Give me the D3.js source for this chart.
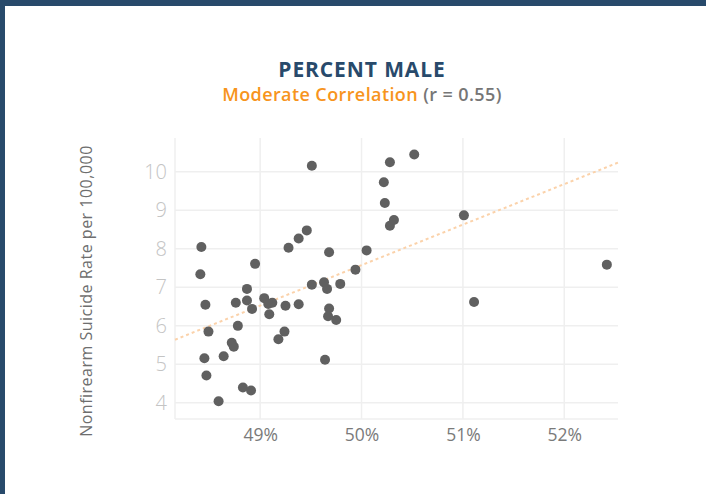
<!DOCTYPE html>
<html>
<head>
<meta charset="utf-8">
<script src="https://cdn.jsdelivr.net/npm/d3@7"></script>
<style>
  body { margin:0; background:#fff; }
  #chart { width:706px; height:494px; }
  text { font-family: "Open Sans", Lato, sans-serif; }
</style>
</head>
<body>
<div id="chart"></div>
<script>
// percent male (x) vs nonfirearm suicide rate (y), one point per state
var pctMale = [48.42, 48.41, 48.95, 49.28, 49.38, 49.46, 49.51, 49.68, 50.05, 50.22,
               50.23, 50.28, 50.28, 50.32, 50.52, 51.01, 52.42, 51.11, 49.94, 49.51,
               49.63, 49.79, 49.66, 49.68, 49.67, 49.75, 49.64, 48.87, 48.87, 48.76,
               48.46, 48.92, 49.04, 49.09, 49.12, 49.08, 49.25, 49.38, 49.24, 49.18,
               48.78, 48.49, 48.72, 48.74, 48.64, 48.45, 48.47, 48.83, 48.91, 48.59];
var rate = [8.05, 7.34, 7.61, 8.03, 8.27, 8.48, 10.16, 7.91, 7.96, 9.73,
            9.19, 10.25, 8.6, 8.75, 10.45, 8.87, 7.59, 6.62, 7.46, 7.07,
            7.13, 7.09, 6.96, 6.45, 6.25, 6.15, 5.12, 6.96, 6.66, 6.6,
            6.55, 6.44, 6.72, 6.3, 6.6, 6.57, 6.52, 6.56, 5.85, 5.65,
            6.0, 5.85, 5.56, 5.46, 5.21, 5.16, 4.71, 4.4, 4.32, 4.04];
var xTicks = [49, 50, 51, 52];
var yTicks = [4, 5, 6, 7, 8, 9, 10];
// trend line end values read from the dotted fit
var trendX = [48.16, 52.53];
var trendY = [5.64, 10.24];

var points = pctMale.map(function(d, i){ return {x:d, y:rate[i]}; });

var margin = {t:138, r:88, b:75, l:175};
var W = 706, H = 494;
var width = W - margin.l - margin.r,
    height = H - margin.t - margin.b;

var svg = d3.select('#chart').append('svg')
    .attr('width', W)
    .attr('height', H);

// dark frame along top and left
svg.append('rect').attr('x',0).attr('y',0).attr('width',W).attr('height',6).attr('fill','#284a6b');
svg.append('rect').attr('x',0).attr('y',0).attr('width',5).attr('height',H).attr('fill','#284a6b');

svg.append('text')
    .attr('x', 362).attr('y', 77)
    .attr('text-anchor','middle')
    .attr('font-size', 21)
    .attr('font-weight', 700)
    .attr('letter-spacing', 0.9)
    .attr('fill', '#284a6b')
    .text('PERCENT MALE');

var sub = svg.append('text')
    .attr('x', 362).attr('y', 101)
    .attr('text-anchor','middle')
    .attr('font-size', 18)
    .attr('font-weight', 600)
    .attr('letter-spacing', 0.4);
sub.append('tspan').attr('fill','#f7941d').text('Moderate Correlation');
sub.append('tspan').attr('fill','#767676').text(' (r = 0.55)');

var plot = svg.append('g')
    .attr('transform','translate('+margin.l+','+margin.t+')');

var x = d3.scaleLinear().domain([48.16, 52.53]).range([0, width]);
var y = d3.scaleLinear().domain([3.58, 10.88]).range([height, 0]);

// gridlines
plot.selectAll('.hgrid')
    .data(yTicks.concat([3.58]))
    .enter().append('line')
    .attr('x1', 0).attr('x2', width)
    .attr('y1', function(d){ return y(d); })
    .attr('y2', function(d){ return y(d); })
    .attr('stroke', '#efefef')
    .attr('stroke-width', 1.5);

plot.selectAll('.vgrid')
    .data([48.16].concat(xTicks))
    .enter().append('line')
    .attr('x1', function(d){ return x(d); })
    .attr('x2', function(d){ return x(d); })
    .attr('y1', 0).attr('y2', height)
    .attr('stroke', '#efefef')
    .attr('stroke-width', 1.5);

// axes (labels only)
var xAxis = plot.append('g')
    .attr('transform','translate(0,'+height+')')
    .call(d3.axisBottom(x).tickValues(xTicks).tickSize(0).tickPadding(10)
        .tickFormat(function(d){ return d + '%'; }));
xAxis.select('.domain').remove();
xAxis.selectAll('text')
    .attr('font-family','"Open Sans", Lato, sans-serif')
    .attr('font-size', 17.5)
    .attr('fill', '#7a7a7a');

var yAxis = plot.append('g')
    .call(d3.axisLeft(y).tickValues(yTicks).tickSize(0).tickPadding(8));
yAxis.select('.domain').remove();
yAxis.selectAll('text')
    .attr('font-family','"Open Sans", Lato, sans-serif')
    .attr('font-size', 20)
    .attr('font-weight', 300)
    .attr('fill', '#c4c4c4');

svg.append('text')
    .attr('transform','translate(92,291) rotate(-90)')
    .attr('text-anchor','middle')
    .attr('font-size', 16)
    .attr('letter-spacing', 0.5)
    .attr('fill', '#6e6e6e')
    .text('Nonfirearm Suicide Rate per 100,000');

// trend line
plot.append('line')
    .attr('x1', x(trendX[0])).attr('y1', y(trendY[0]))
    .attr('x2', x(trendX[1])).attr('y2', y(trendY[1]))
    .attr('stroke', '#fbd2aa')
    .attr('stroke-width', 2)
    .attr('stroke-dasharray', '3,3');

// points
plot.selectAll('.dot')
    .data(points)
    .enter().append('circle')
    .attr('class','dot')
    .attr('cx', function(d){ return x(d.x); })
    .attr('cy', function(d){ return y(d.y); })
    .attr('r', 5)
    .attr('fill', '#606060');
</script>
</body>
</html>
